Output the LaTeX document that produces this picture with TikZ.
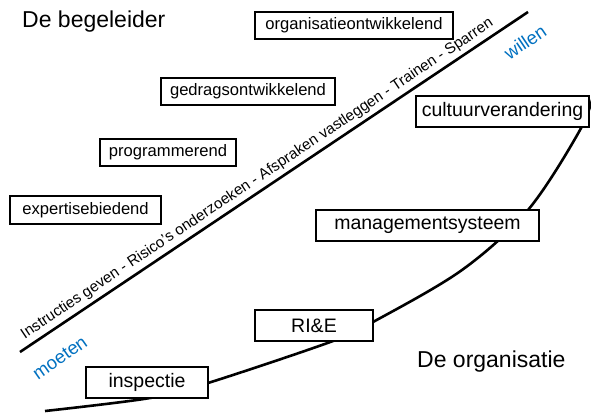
\documentclass[tikz,border=0pt]{standalone}
\usepackage{fontspec}
\setmainfont{Liberation Sans}
\definecolor{accent}{HTML}{0070C0}
\begin{document}
\begin{tikzpicture}[x=1pt,y=-1pt,
  boxs/.style={draw=black,line width=1.3pt,fill=white,inner sep=0pt,font=\fontsize{16.6}{18}\selectfont},
  boxl/.style={draw=black,line width=1.3pt,fill=white,inner sep=0pt,font=\fontsize{19.5}{22}\selectfont},
  title/.style={anchor=base west,inner sep=0pt,font=\fontsize{23}{26}\selectfont},
  level/.style={text=accent,inner sep=0pt,font=\fontsize{18.5}{20}\selectfont},
  thick line/.style={line width=2.6pt}]
\useasboundingbox (0,0) rectangle (591,412);

% titles
\node[title] (tb) at (22,28) {De begeleider};
\node[title] (to) at (417,367) {De organisatie};

% straight line with text
\coordinate (L1) at (20,352);
\coordinate (L2) at (528,12);
\draw[thick line] (L1) -- (L2)
  node[pos=0.48,sloped,above,inner sep=3.5pt,font=\fontsize{15.2}{17}\selectfont] (lt)
  {Instructies geven - Risico's onderzoeken - Afspraken vastleggen - Trainen - Sparren};

\node[level,rotate=34] (wil) at (525,42) {willen};
\node[level,rotate=35] (moe) at (60,358) {moeten};

% curve
\draw[thick line] plot[smooth,tension=0.55] coordinates
  {(45,411) (150,398) (208,383) (333,341) (373,322) (462,270) (528,210) (580,130) (594,92)};

% begeleider boxes
\node[boxs,minimum width=198pt,minimum height=27pt] (org) at (354,25.5) {organisatieontwikkelend};
\node[boxs,minimum width=174pt,minimum height=27pt] (ged) at (248,91.5) {gedragsontwikkelend};
\node[boxs,minimum width=136pt,minimum height=27pt] (pro) at (168,152.5) {programmerend};
\node[boxs,minimum width=151pt,minimum height=28pt] (exp) at (85.5,210) {expertisebiedend};

% organisatie boxes
\node[boxl,minimum width=173pt,minimum height=31pt] (cul) at (502.5,111.5) {cultuurverandering};
\node[boxl,minimum width=223pt,minimum height=31pt] (man) at (427.5,225.5) {managementsysteem};
\node[boxl,minimum width=118pt,minimum height=31pt] (rie) at (314,325.5) {RI\&E};
\node[boxl,minimum width=122pt,minimum height=31pt] (ins) at (147,382.5) {inspectie};
\end{tikzpicture}
\end{document}
